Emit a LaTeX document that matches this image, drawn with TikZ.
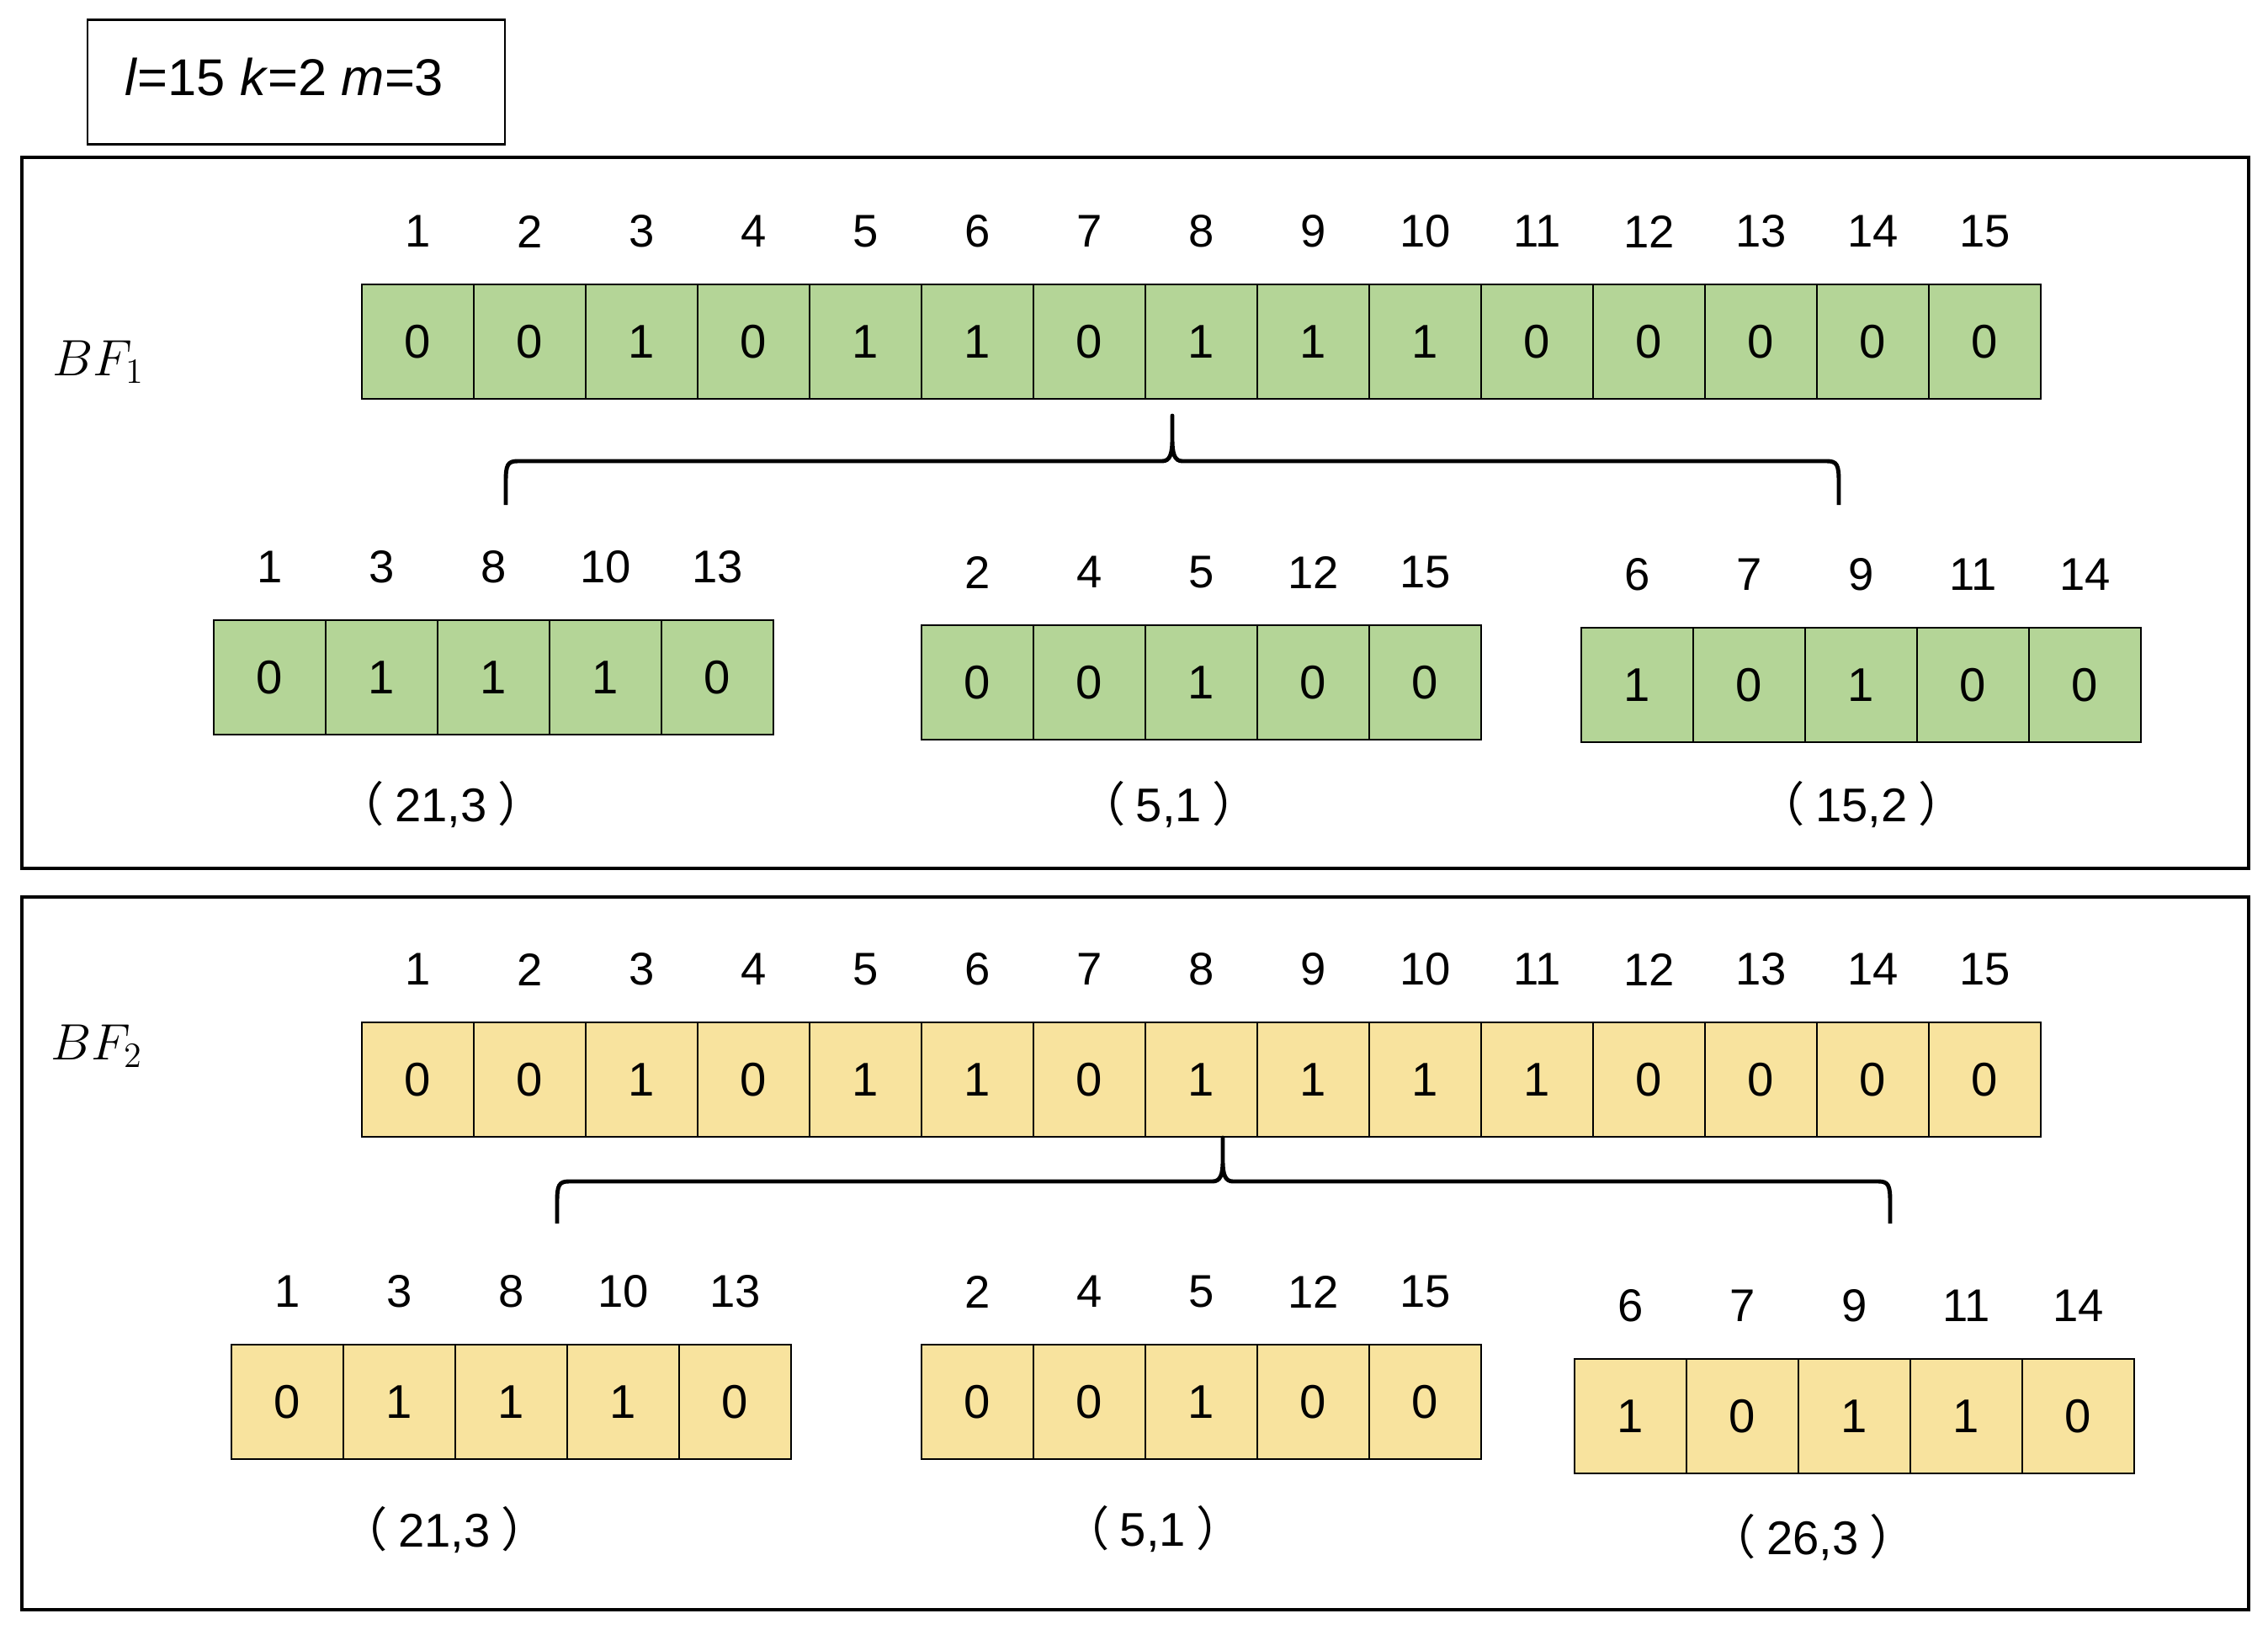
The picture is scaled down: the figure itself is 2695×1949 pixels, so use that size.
\documentclass[tikz,border=0pt]{standalone}
\usepackage{fontspec}
\setmainfont{Liberation Sans}
\newfontfamily\cjk{Noto Sans CJK SC}
\definecolor{bfgreen}{RGB}{180,213,151}
\definecolor{bfyellow}{RGB}{248,227,158}
\newcommand\cellfont{\fontsize{16}{19}\selectfont}
\newcommand\idxfont{\fontsize{15.5}{18}\selectfont}
\newcommand\pairlabel[1]{{\cjk （}\hspace{0.22em}#1\hspace{0.22em}{\cjk ）}}
\tikzset{
  cellbox/.style={draw=black, line width=0.8pt, minimum width=13.3mm, minimum height=13.6mm, inner sep=0pt, font=\cellfont},
  greencell/.style={cellbox, fill=bfgreen},
  yellowcell/.style={cellbox, fill=bfyellow},
  idx/.style={inner sep=0pt, font=\idxfont},
  pairlbl/.style={inner sep=0pt, font=\cellfont},
  panel/.style={draw=black, line width=1.2pt},
  bracepath/.style={draw=black, line width=1.4pt, line join=round},
  bflbl/.style={inner sep=0pt, font=\fontsize{17}{20}\selectfont},
}
% #1 name, #2 x left, #3 y top, #4 cell style, #5 list index/value
\newcommand\drawarr[5]{%
  \foreach \i/\v [count=\c] in {#5} {
    \node[#4] (#1-\c) at ({#2+133*(\c-0.5)},{#3+68}) {\v};
    \node[idx] (#1-i\c) at ({#2+133*(\c-0.5)},{#3-63}) {\i};
  }%
}
\begin{document}
\begin{tikzpicture}[x=0.1mm,y=-0.1mm]
\useasboundingbox (0,0) rectangle (2695,1949);
\fill[white] (0,0) rectangle (2695,1949);

% parameter box
\draw[line width=0.85pt] (104,23) rectangle (600,171);
\node[inner sep=0pt, font=\fontsize{17.5}{21}\selectfont] (params) at (338,92) {\textit{l}=15 \textit{k}=2 \textit{m}=3};

% panels
\draw[panel] (26,187) rectangle (2672,1032);
\draw[panel] (26,1066) rectangle (2672,1913);

% ---------- panel 1 ----------
\node[bflbl] (bf1) at (117,430) {$BF_1$};
\drawarr{P}{430}{338}{greencell}{1/0,2/0,3/1,4/0,5/1,6/1,7/0,8/1,9/1,10/1,11/0,12/0,13/0,14/0,15/0}
\drawarr{A}{254}{737}{greencell}{1/0,3/1,8/1,10/1,13/0}
\drawarr{B}{1095}{743}{greencell}{2/0,4/0,5/1,12/0,15/0}
\drawarr{C}{1879}{746}{greencell}{6/1,7/0,9/1,11/0,14/0}
\node[pairlbl] (la) at (524,956) {\pairlabel{21,3}};
\node[pairlbl] (lb) at (1389,956) {\pairlabel{5,1}};
\node[pairlbl] (lc) at (2212,956) {\pairlabel{15,2}};

\coordinate (br1l) at (601,600);
\coordinate (br1t) at (1393,494);
\coordinate (br1r) at (2185,600);
\draw[bracepath] (br1l) -- (601,572) .. controls (601,553) and (603,548) .. (615,548) -- (1381,548) .. controls (1390,548) and (1393,540) .. (1393,522) -- (br1t) -- (1393,522) .. controls (1393,540) and (1396,548) .. (1405,548) -- (2171,548) .. controls (2183,548) and (2185,553) .. (2185,572) -- (br1r);

% ---------- panel 2 ----------
\node[bflbl] (bf2) at (115,1243) {$BF_2$};
\drawarr{Q}{430}{1215}{yellowcell}{1/0,2/0,3/1,4/0,5/1,6/1,7/0,8/1,9/1,10/1,11/1,12/0,13/0,14/0,15/0}
\drawarr{D}{275}{1598}{yellowcell}{1/0,3/1,8/1,10/1,13/0}
\drawarr{E}{1095}{1598}{yellowcell}{2/0,4/0,5/1,12/0,15/0}
\drawarr{F}{1871}{1615}{yellowcell}{6/1,7/0,9/1,11/1,14/0}
\node[pairlbl] (ld) at (528,1818) {\pairlabel{21,3}};
\node[pairlbl] (le) at (1370,1817) {\pairlabel{5,1}};
\node[pairlbl] (lf) at (2154,1827) {\pairlabel{26,3}};

\coordinate (br2l) at (662,1454);
\coordinate (br2t) at (1453,1352);
\coordinate (br2r) at (2246,1454);
\draw[bracepath] (br2l) -- (662,1428) .. controls (662,1409) and (664,1404) .. (676,1404) -- (1441,1404) .. controls (1450,1404) and (1453,1396) .. (1453,1380) -- (br2t) -- (1453,1380) .. controls (1453,1396) and (1456,1404) .. (1465,1404) -- (2232,1404) .. controls (2244,1404) and (2246,1409) .. (2246,1428) -- (br2r);
\end{tikzpicture}
\end{document}
